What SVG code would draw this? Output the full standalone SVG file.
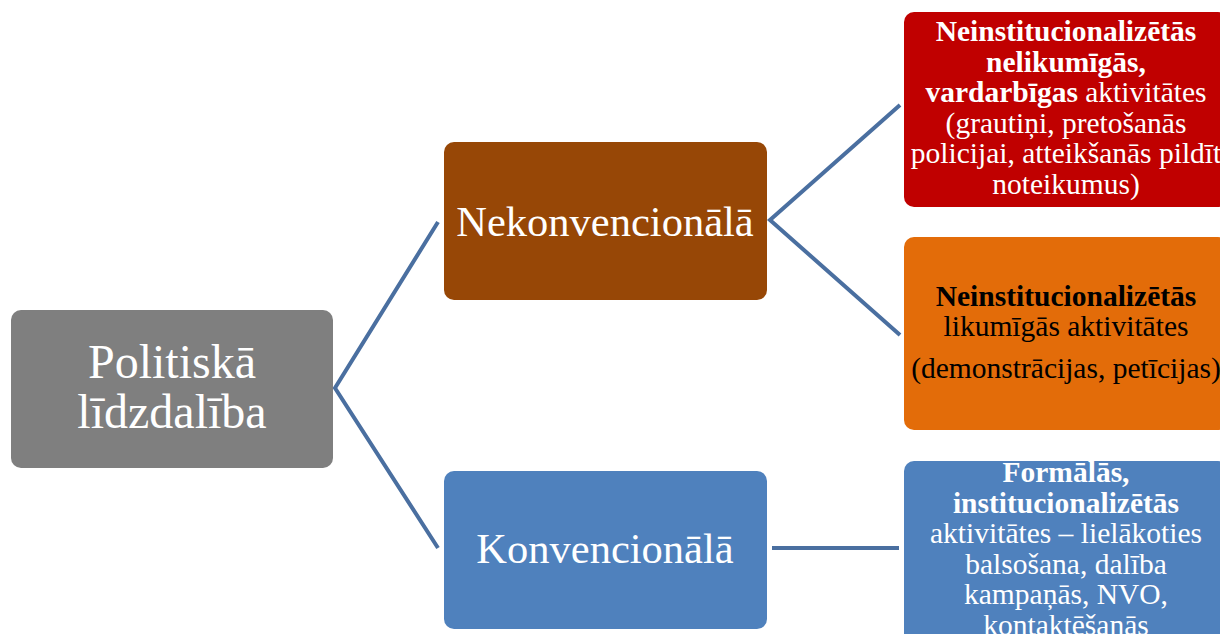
<svg xmlns="http://www.w3.org/2000/svg" width="1220" height="634" viewBox="0 0 1220 634">
<style>
.t{font-family:"Liberation Serif","Times New Roman",serif;text-anchor:middle;fill:#fff}
.s{font-size:29.5px}
.k{fill:#000}
.c{stroke:#4a6fa0;stroke-width:4;fill:none}
</style>
<rect width="1220" height="634" fill="#fff"/>
<g id="connectors">
<polyline class="c" points="438,222 335,388 438,548"/>
<polyline class="c" points="900,105 770,220 900,335"/>
<line class="c" x1="772" y1="548" x2="899" y2="548"/>
</g>
<g id="root">
<rect x="11" y="310" width="322" height="158" rx="10" fill="#7f7f7f"/>
<text class="t" x="172" y="378" font-size="48">Politiskā</text>
<text class="t" x="172" y="428" font-size="48">līdzdalība</text>
</g>
<g id="nekonv">
<rect x="444" y="142" width="323" height="158" rx="10" fill="#974706"/>
<text class="t" x="605" y="236" font-size="42.5">Nekonvencionālā</text>
</g>
<g id="konv">
<rect x="444" y="471" width="323" height="158" rx="10" fill="#4f81bd"/>
<text class="t" x="605" y="563" font-size="42.5">Konvencionālā</text>
</g>
<g id="red">
<rect x="904" y="12" width="324" height="195" rx="10" fill="#c00000"/>
<text class="t s" x="1066" y="41" font-weight="bold">Neinstitucionalizētās</text>
<text class="t s" x="1066" y="71.5" font-weight="bold">nelikumīgās,</text>
<text class="t s" x="1066" y="102"><tspan font-weight="bold">vardarbīgas</tspan> aktivitātes</text>
<text class="t s" x="1066" y="132.5">(grautiņi, pretošanās</text>
<text class="t s" x="1066" y="163">policijai, atteikšanās pildīt</text>
<text class="t s" x="1066" y="193.5">noteikumus)</text>
</g>
<g id="orange">
<rect x="904" y="237" width="324" height="193" rx="10" fill="#e36c09"/>
<text class="t s k" x="1066" y="306" font-weight="bold">Neinstitucionalizētās</text>
<text class="t s k" x="1066" y="336">likumīgās aktivitātes</text>
<text class="t s k" x="1066" y="378">(demonstrācijas, petīcijas)</text>
</g>
<g id="blue">
<rect x="904" y="461" width="324" height="190" rx="10" fill="#4f81bd"/>
<text class="t s" x="1066" y="482" font-weight="bold">Formālās,</text>
<text class="t s" x="1066" y="512.5" font-weight="bold">institucionalizētās</text>
<text class="t s" x="1066" y="543">aktivitātes – lielākoties</text>
<text class="t s" x="1066" y="573.5">balsošana, dalība</text>
<text class="t s" x="1066" y="604">kampaņās, NVO,</text>
<text class="t s" x="1066" y="634.5">kontaktēšanās</text>
</g>
</svg>
